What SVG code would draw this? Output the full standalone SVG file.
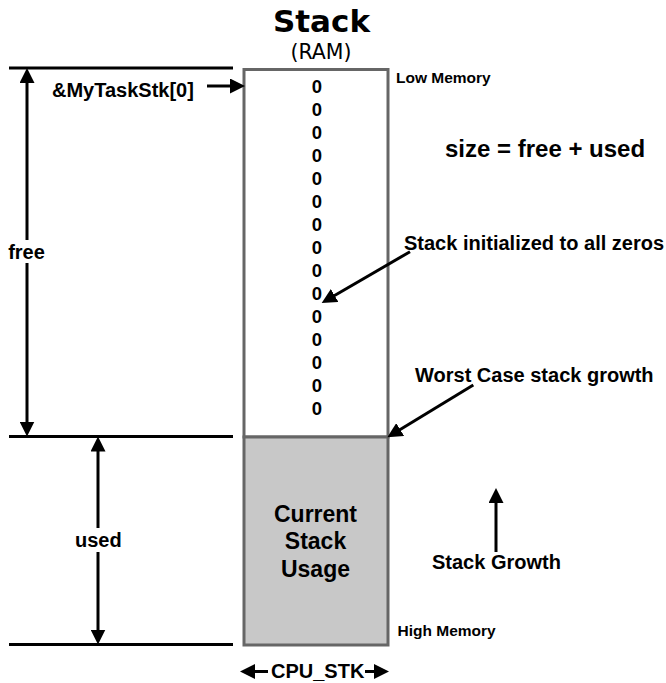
<svg xmlns="http://www.w3.org/2000/svg" width="666" height="683" viewBox="0 0 666 683">
<defs>
<marker id="ah" viewBox="0 0 15 15" refX="10" refY="7.5" markerWidth="15" markerHeight="15" markerUnits="userSpaceOnUse" orient="auto-start-reverse">
<path d="M0,0 L15,7.5 L0,15 z" fill="#000"/>
</marker>
<style>
text{font-family:"Liberation Sans",Arial,sans-serif;font-weight:bold;fill:#000}
.t20{font-size:20px}
.t15{font-size:15.5px}
.z{font-size:18.5px;text-anchor:middle}
.mid{text-anchor:middle}
.ln{stroke:#000;stroke-width:3;fill:none}
.arr{stroke:#000;stroke-width:3;fill:none;marker-end:url(#ah)}
.dbl{stroke:#000;stroke-width:3;fill:none;marker-start:url(#ah);marker-end:url(#ah)}
.box{stroke:#666;stroke-width:3}
</style>
</defs>
<rect width="666" height="683" fill="#fff"/>
<g id="title">
<text x="321.5" y="31.5" class="mid" style="font-family:'DejaVu Sans',Verdana,sans-serif;font-size:31px">Stack</text>
<text x="321" y="59" class="mid" style="font-family:'DejaVu Sans',Verdana,sans-serif;font-weight:normal;font-size:20.5px">(RAM)</text>
</g>
<g id="stack-free">
<rect x="244" y="69.5" width="144" height="367.5" fill="#fff" class="box"/>
<text class="z" x="317" y="93">0</text>
<text class="z" x="317" y="116">0</text>
<text class="z" x="317" y="139">0</text>
<text class="z" x="317" y="162">0</text>
<text class="z" x="317" y="185">0</text>
<text class="z" x="317" y="208">0</text>
<text class="z" x="317" y="231">0</text>
<text class="z" x="317" y="254">0</text>
<text class="z" x="317" y="277">0</text>
<text class="z" x="317" y="300">0</text>
<text class="z" x="317" y="323">0</text>
<text class="z" x="317" y="346">0</text>
<text class="z" x="317" y="369">0</text>
<text class="z" x="317" y="392">0</text>
<text class="z" x="317" y="415">0</text>
</g>
<g id="stack-used">
<rect x="244" y="437" width="144" height="208" fill="#c8c8c8" class="box"/>
<text class="mid" x="315.5" y="522" style="font-size:23px">Current</text>
<text class="mid" x="315.5" y="549" style="font-size:23px">Stack</text>
<text class="mid" x="315.5" y="577" style="font-size:23px">Usage</text>
</g>
<g id="connectors">
<line class="ln" x1="9" y1="68" x2="233" y2="68"/>
<line class="ln" x1="9" y1="436.5" x2="233" y2="436.5"/>
<line class="ln" x1="9" y1="644.5" x2="233" y2="644.5"/>
<line class="dbl" x1="27" y1="73" x2="27" y2="431.5"/>
<line class="dbl" x1="98" y1="441.5" x2="98" y2="639.5"/>
<line class="arr" x1="207" y1="86" x2="240" y2="86"/>
<line class="arr" x1="410" y1="251.7" x2="326" y2="300.5"/>
<line class="arr" x1="473.3" y1="385" x2="391.6" y2="434.7"/>
<line class="arr" x1="496" y1="552" x2="496" y2="493"/>
<line class="arr" x1="268" y1="671.5" x2="245" y2="671.5"/>
<line class="arr" x1="365" y1="671.5" x2="384" y2="671.5"/>
</g>
<g id="labels">
<rect x="6" y="240" width="42" height="23" fill="#fff"/>
<text class="t20 mid" x="26.5" y="259.3">free</text>
<rect x="74" y="528" width="48" height="24" fill="#fff"/>
<text class="t20 mid" x="98.3" y="546.7">used</text>
<text class="t20" x="52" y="97">&amp;MyTaskStk[0]</text>
<text class="t15" x="396" y="82.7">Low Memory</text>
<text class="t15" x="397.5" y="636">High Memory</text>
<text x="445" y="156.7" style="font-size:24px">size = free + used</text>
<text class="t20" x="404" y="250">Stack initialized to all zeros</text>
<text class="t20" x="415" y="381.7">Worst Case stack growth</text>
<text class="t20" x="432" y="569.3">Stack Growth</text>
<text class="t20" x="271" y="677.5">CPU_STK</text>
</g>
</svg>
